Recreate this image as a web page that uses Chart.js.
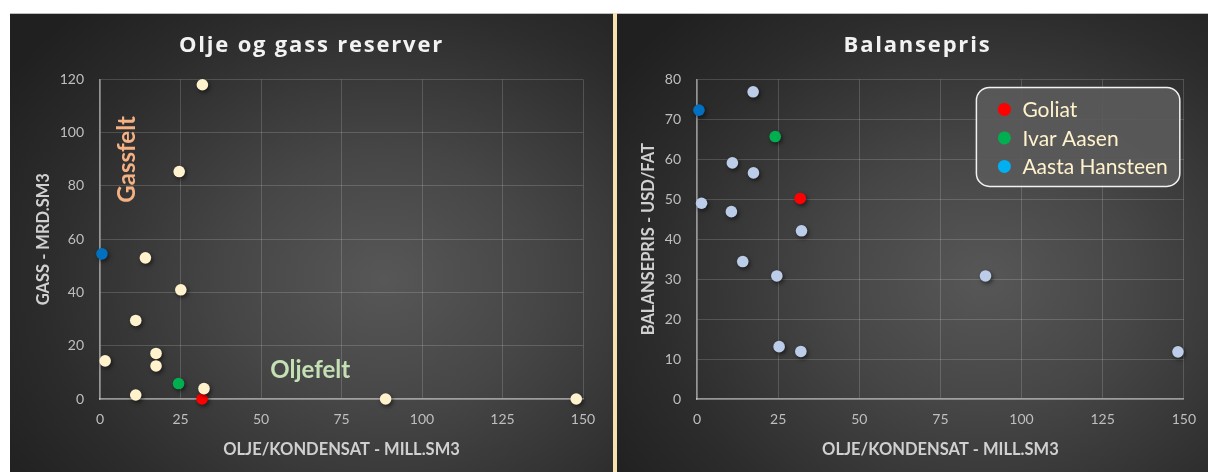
<!DOCTYPE html>
<html>
<head>
<meta charset="utf-8">
<script src="https://cdn.jsdelivr.net/npm/chart.js@4.4.1/dist/chart.umd.min.js"></script>
<style>
  html, body { margin: 0; padding: 0; background: #ffffff; }
  #wrap { position: relative; width: 1208px; height: 472px; overflow: hidden; }
  .panel {
    position: absolute; top: 13px; height: 459px;
    border-top: 1px solid #bdbdbd; box-sizing: border-box;
    background: radial-gradient(ellipse 75% 80% at 62% 58%, #575757 0%, #464646 35%, #2c2c2c 75%, #202020 100%);
  }
  #p1 { left: 10px; width: 603px; }
  #p2 { left: 617px; width: 591px; }
  #sep { position: absolute; left: 613px; top: 13px; width: 4px; height: 459px; background: #f6e2ad; }
  canvas { display: block; }
</style>
</head>
<body>
<div id="wrap">
  <div class="panel" id="p1"><canvas id="c1" width="603" height="458"></canvas></div>
  <div id="sep"></div>
  <div class="panel" id="p2"><canvas id="c2" width="591" height="458"></canvas></div>
</div>
<script>
// ---- Olje og gass reserver: oil/condensate (mill. Sm3) vs gas (mrd. Sm3)
const andreOljeR = [31.8, 24.6, 14.1, 25.1, 11.1, 1.6, 17.4, 17.4, 32.3, 11.1, 88.7, 147.9];
const andreGassR = [118, 85.4, 53.0, 41.0, 29.5, 14.3, 17.1, 12.4, 3.9, 1.5, 0, 0];
const goliatR = { olje: [31.7], gass: [0] };
const ivarAasenR = { olje: [24.4], gass: [5.8] };
const aastaHansteenR = { olje: [0.6], gass: [54.5] };

// ---- Balansepris: oil/condensate (mill. Sm3) vs break-even price (USD/fat)
const andreOljeB = [17.3, 10.9, 17.4, 1.4, 10.6, 32.2, 14.1, 24.6, 25.3, 32.0, 88.9, 148.2];
const andrePrisB = [76.9, 59.1, 56.6, 49.0, 46.9, 42.1, 34.4, 30.8, 13.1, 11.9, 30.8, 11.8];
const goliatB = { olje: [31.8], pris: [50.2] };
const ivarAasenB = { olje: [24.1], pris: [65.7] };
const aastaHansteenB = { olje: [0.6], pris: [72.3] };

// tick values
const xTicks = [0, 25, 50, 75, 100, 125, 150];
const yTicksR = [0, 20, 40, 60, 80, 100, 120];
const yTicksB = [0, 10, 20, 30, 40, 50, 60, 70, 80];

// field labels placed in the reserves chart
const feltTekster = [
  { text: 'Gassfelt', x: 8.4, y: 90, color: '#f4b183', rotate: true },
  { text: 'Oljefelt', x: 65.3, y: 10.9, color: '#c5e0b4', rotate: false }
];

const legendNames = ['Goliat', 'Ivar Aasen', 'Aasta Hansteen'];
const legendColors = ['#ff0000', '#00b050', '#00b0f0'];

const FONT = 'Lato, "Open Sans", sans-serif';
Chart.defaults.font.family = FONT;

const toPoints = (xs, ys) => xs.map((x, i) => ({ x, y: ys[i] }));

// wider letter spacing for the chart title only (re-centred for the extra spacing)
const spacedTitle = {
  id: 'spacedTitle',
  beforeDraw(chart, args, opts) {
    const tb = chart.titleBlock;
    if (!tb || tb._spaced) return;
    const orig = tb.draw;
    tb.draw = function () {
      const ctx = this.ctx;
      ctx.save();
      ctx.letterSpacing = '1.8px';
      ctx.translate(opts.shift || 0, 0);
      orig.apply(this, arguments);
      ctx.restore();
      ctx.letterSpacing = '0px';
    };
    tb._spaced = true;
  }
};

// soft drop shadow under the markers
const markerShadow = {
  id: 'markerShadow',
  beforeDatasetsDraw(chart) {
    const ctx = chart.ctx;
    ctx.save();
    ctx.shadowColor = 'rgba(0,0,0,0.55)';
    ctx.shadowBlur = 4;
    ctx.shadowOffsetX = 1.5;
    ctx.shadowOffsetY = 2;
  },
  afterDatasetsDraw(chart) { chart.ctx.restore(); }
};

// field-type labels at data positions
const feltLabels = {
  id: 'feltLabels',
  afterDatasetsDraw(chart, args, opts) {
    if (!opts.items) return;
    const ctx = chart.ctx;
    const { x, y } = chart.scales;
    opts.items.forEach(it => {
      ctx.save();
      ctx.translate(x.getPixelForValue(it.x), y.getPixelForValue(it.y));
      if (it.rotate) ctx.rotate(-Math.PI / 2);
      ctx.font = 'bold 24px ' + FONT;
      ctx.fillStyle = it.color;
      ctx.textAlign = 'center';
      ctx.textBaseline = 'middle';
      ctx.fillText(it.text, 0, 0);
      ctx.restore();
    });
  }
};

// legend box drawn inside the plot area
const boxLegend = {
  id: 'boxLegend',
  afterDraw(chart, args, opts) {
    if (!opts.names) return;
    const ctx = chart.ctx;
    const area = chart.chartArea;
    ctx.save();
    ctx.font = '21px ' + FONT;
    const tw = Math.max(...opts.names.map(n => ctx.measureText(n).width));
    const w = 28 + 18 + tw + 12;
    const h = 99;
    const bx = area.right - 4 - w;
    const by = area.top + 8;
    ctx.beginPath();
    ctx.roundRect(bx, by, w, h, 13);
    ctx.fillStyle = 'rgba(90,90,90,0.92)';
    ctx.fill();
    ctx.lineWidth = 1.5;
    ctx.strokeStyle = '#f2f2f2';
    ctx.stroke();
    opts.names.forEach((n, i) => {
      const cy = by + 22 + i * 28.5;
      ctx.beginPath();
      ctx.arc(bx + 28, cy, 6.5, 0, Math.PI * 2);
      ctx.fillStyle = opts.colors[i];
      ctx.fill();
      ctx.fillStyle = '#fff2cc';
      ctx.textAlign = 'left';
      ctx.textBaseline = 'middle';
      ctx.fillText(n, bx + 46, cy + 1);
    });
    ctx.restore();
  }
};

function makeOptions(cfg) {
  return {
    responsive: false,
    animation: false,
    layout: { padding: { left: 0, right: cfg.padRight, top: 0, bottom: 0 } },
    plugins: {
      legend: { display: false },
      tooltip: { enabled: false },
      title: {
        display: true,
        text: cfg.title,
        color: '#f2f2f2',
        font: { family: '"Open Sans", sans-serif', size: 22, weight: 'bold' },
        padding: { top: 19, bottom: 20 }
      },
      spacedTitle: { shift: cfg.titleShift },
      feltLabels: { items: cfg.felt },
      boxLegend: { names: cfg.legendNames, colors: cfg.legendColors }
    },
    scales: {
      x: {
        type: 'linear', min: 0, max: 150,
        afterBuildTicks: s => { s.ticks = xTicks.map(v => ({ value: v })); },
        afterFit: s => { s.height = 73; },
        ticks: { color: '#bfbfbf', font: { size: 14 }, padding: 12 },
        grid: { color: 'rgba(255,255,255,0.16)', lineWidth: 1, drawTicks: false },
        border: { display: true, color: 'rgba(235,235,235,0.55)', width: 1.5 },
        title: {
          display: true, text: 'OLJE/KONDENSAT - MILL.SM3', color: '#d0d0d0',
          font: { size: 16.5, weight: 'bold' }, padding: { top: 0, bottom: 12 }
        }
      },
      y: {
        type: 'linear', min: 0, max: cfg.yMax,
        afterBuildTicks: s => { s.ticks = cfg.yTicks.map(v => ({ value: v })); },
        afterFit: s => { s.width = cfg.yWidth; },
        ticks: { color: '#bfbfbf', font: { size: 14 }, padding: 16 },
        grid: { color: 'rgba(255,255,255,0.16)', lineWidth: 1, drawTicks: false },
        border: { display: true, color: 'rgba(235,235,235,0.55)', width: 1.5 },
        title: {
          display: true, text: cfg.yTitle, color: '#d0d0d0',
          font: { size: 16.5, weight: 'bold' }, padding: { top: cfg.yTitlePad, bottom: 0 }
        }
      }
    }
  };
}

const dot = (label, data, color) => ({
  label, data, backgroundColor: color, borderWidth: 0, clip: false,
  pointRadius: 5.8, pointHoverRadius: 5.8, showLine: false
});

new Chart(document.getElementById('c1'), {
  type: 'scatter',
  data: {
    datasets: [
      dot('Andre felt', toPoints(andreOljeR, andreGassR), '#fff2cc'),
      dot('Goliat', toPoints(goliatR.olje, goliatR.gass), '#ff0000'),
      dot('Ivar Aasen', toPoints(ivarAasenR.olje, ivarAasenR.gass), '#00b050'),
      dot('Aasta Hansteen', toPoints(aastaHansteenR.olje, aastaHansteenR.gass), '#0070c0')
    ]
  },
  options: makeOptions({
    title: 'Olje og gass reserver', yTitle: 'GASS - MRD.SM3', titleShift: 15,
    yMax: 120, yTicks: yTicksR, yWidth: 90, yTitlePad: 24, padRight: 30,
    felt: feltTekster
  }),
  plugins: [spacedTitle, markerShadow, feltLabels, boxLegend]
});

new Chart(document.getElementById('c2'), {
  type: 'scatter',
  data: {
    datasets: [
      dot('Andre felt', toPoints(andreOljeB, andrePrisB), '#bccde9'),
      dot('Goliat', toPoints(goliatB.olje, goliatB.pris), '#ff0000'),
      dot('Ivar Aasen', toPoints(ivarAasenB.olje, ivarAasenB.pris), '#00b050'),
      dot('Aasta Hansteen', toPoints(aastaHansteenB.olje, aastaHansteenB.pris), '#0070c0')
    ]
  },
  options: makeOptions({
    title: 'Balansepris', yTitle: 'BALANSEPRIS - USD/FAT', titleShift: 15,
    yMax: 80, yTicks: yTicksB, yWidth: 80, yTitlePad: 22, padRight: 20,
    legendNames, legendColors
  }),
  plugins: [spacedTitle, markerShadow, feltLabels, boxLegend]
});
</script>
</body>
</html>
